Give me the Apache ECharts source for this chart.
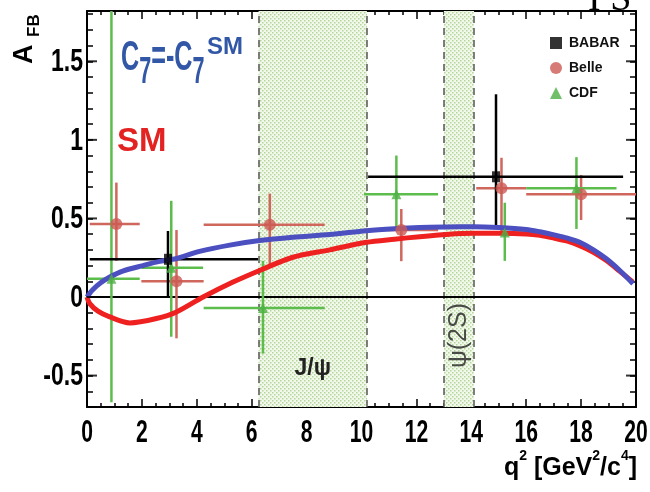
<!DOCTYPE html>
<html>
<head>
<meta charset="utf-8">
<script src="https://cdn.jsdelivr.net/npm/echarts@6/dist/echarts.min.js"></script>
<style>html,body{margin:0;padding:0;background:#fff;}#c{width:650px;height:492px;}</style>
</head>
<body>
<div id="c"></div>
<script>
// ---- data ----
const blueX = [0, 0.2, 0.5, 0.83, 1.3, 2.04, 2.6, 3.26, 4.1, 5.2, 6.29, 7.5, 8.84, 10.18, 11.2, 12.12, 13.1, 14.06, 15.0, 16.0, 16.5, 16.98, 17.5, 17.95, 18.45, 18.92, 19.4, 19.89];
const blueY = [0.0, 0.045, 0.09, 0.127, 0.165, 0.2, 0.225, 0.245, 0.29, 0.33, 0.359, 0.38, 0.397, 0.422, 0.435, 0.443, 0.446, 0.447, 0.442, 0.43, 0.415, 0.397, 0.375, 0.348, 0.3, 0.243, 0.17, 0.085];
const redX = [0, 0.1, 0.4, 0.83, 1.56, 2.53, 3.26, 4.23, 5.32, 6.29, 7.5, 8.84, 10.18, 11.2, 12.12, 13.1, 14.06, 15.0, 16.0, 16.5, 16.98, 17.5, 17.95, 18.45, 18.92, 19.4, 19.89];
const redY = [0.0, -0.042, -0.09, -0.127, -0.165, -0.137, -0.095, 0.0, 0.095, 0.169, 0.253, 0.3, 0.348, 0.368, 0.384, 0.398, 0.405, 0.405, 0.401, 0.392, 0.376, 0.355, 0.327, 0.285, 0.232, 0.165, 0.095];

const babarX   = [2.95, 14.9];
const babarY   = [0.24, 0.765];
const babarXlo = [0.1, 10.24];
const babarXhi = [6.23, 19.53];
const babarYlo = [0.0, 0.433];
const babarYhi = [0.42, 1.29];

const belleX   = [1.07, 3.26, 6.66, 11.45, 15.1, 18.0];
const belleY   = [0.465, 0.1, 0.46, 0.426, 0.692, 0.654];
const belleXlo = [0.1, 1.98, 4.25, 10.1, 14.18, 16.0];
const belleXhi = [1.92, 4.25, 8.66, 12.79, 16.0, 20.0];
const belleYlo = [0.23, -0.263, 0.21, 0.228, 0.42, 0.49];
const belleYhi = [0.728, 0.426, 0.658, 0.56, 0.886, 0.776];

const cdfX   = [0.89, 3.07, 6.41, 11.27, 15.22, 17.83];
const cdfY   = [0.116, 0.186, -0.07, 0.654, 0.41, 0.692];
const cdfXlo = [0.0, 1.98, 4.25, 10.09, 14.18, 16.0];
const cdfXhi = [1.92, 4.23, 8.66, 12.79, 16.0, 19.29];
const cdfYlo = [-0.67, -0.253, -0.36, 0.42, 0.23, 0.433];
const cdfYhi = [2.0, 0.612, 0.23, 0.9, 0.6, 0.89];

const bandJpsi = [6.25, 10.2];
const bandPsi2S = [13.0, 14.1];
const zeroX = [0, 19.8];
const xTickLabels = [0, 2, 4, 6, 8, 10, 12, 14, 16, 18, 20];
const yTickLabels = [-0.5, 0, 0.5, 1, 1.5];

// ---- helpers ----
const Y_MIN = -0.7, Y_MAX = 1.82;
const pts = (xs, ys) => xs.map((x, i) => [x, ys[i]]);
const errData = (x, y, xl, xh, yl, yh) => x.map((v, i) => [v, y[i], xl[i], xh[i], yl[i], yh[i]]);
function errSeries(name, data, color, w) {
  return {
    type: 'custom', name: name, data: data, clip: true, z: 4,
    renderItem: function (params, api) {
      const x = api.value(0), y = api.value(1);
      const p1 = api.coord([api.value(2), y]), p2 = api.coord([api.value(3), y]);
      const p3 = api.coord([x, api.value(4)]), p4 = api.coord([x, api.value(5)]);
      const cs = params.coordSys;
      return {
        type: 'group',
        clipPath: {type: 'rect', shape: {x: cs.x, y: cs.y, width: cs.width, height: cs.height}},
        children: [
          {type: 'line', shape: {x1: p1[0], y1: p1[1], x2: p2[0], y2: p2[1]}, style: {stroke: color, lineWidth: w}},
          {type: 'line', shape: {x1: p3[0], y1: p3[1], x2: p4[0], y2: p4[1]}, style: {stroke: color, lineWidth: w}}
        ]
      };
    }
  };
}

// dotted pattern for bands
const pat = document.createElement('canvas');
pat.width = 4; pat.height = 4;
const pc = pat.getContext('2d');
pc.fillStyle = '#f2f8ec'; pc.fillRect(0, 0, 4, 4);
pc.fillStyle = '#b5d69a'; pc.fillRect(0, 0, 1.5, 1.5); pc.fillRect(2, 2, 1.5, 1.5);

const SANS = '"Liberation Sans", Arial, sans-serif';

const chart = echarts.init(document.getElementById('c'), null, {renderer: 'canvas'});

const axBase = {
  type: 'value',
  axisLine: {show: true, onZero: false, lineStyle: {color: '#000', width: 2}},
  splitLine: {show: false},
  axisLabel: {show: false}
};

const option = {
  animation: false,
  backgroundColor: '#fff',
  grid: {left: 87, right: 14, top: 11, bottom: 85, containLabel: false},
  legend: {
    orient: 'vertical', left: 550, top: 36, itemWidth: 12, itemHeight: 12, itemGap: 11, padding: 0,
    textStyle: {fontSize: 14, fontWeight: 'bold', fontFamily: SANS, color: '#111', padding: [0, 0, 0, 2]},
    data: [
      {name: 'BABAR', icon: 'rect'},
      {name: 'Belle', icon: 'circle'},
      {name: 'CDF', icon: 'triangle'}
    ]
  },
  xAxis: [
    Object.assign({}, axBase, {min: 0, max: 20, interval: 2, position: 'bottom',
      axisTick: {show: true, inside: true, length: 8, lineStyle: {color: '#000', width: 1.5}},
      minorTick: {show: true, splitNumber: 4, length: 4, lineStyle: {color: '#000', width: 1.5}}}),
    Object.assign({}, axBase, {min: 0, max: 20, interval: 2, position: 'top',
      axisTick: {show: true, inside: true, length: 8, lineStyle: {color: '#000', width: 1.5}},
      minorTick: {show: true, splitNumber: 4, length: 4, lineStyle: {color: '#000', width: 1.5}}})
  ],
  yAxis: [
    Object.assign({}, axBase, {min: Y_MIN, max: Y_MAX, interval: 0.1, position: 'left',
      axisTick: {show: true, inside: true, length: 6, lineStyle: {color: '#000', width: 1.5}}}),
    Object.assign({}, axBase, {min: Y_MIN, max: Y_MAX, interval: 0.1, position: 'right',
      axisTick: {show: true, inside: true, length: 6, lineStyle: {color: '#000', width: 1.5}}})
  ],
  series: [
    {
      type: 'line', name: 'zero', data: pts(zeroX, [0, 0]), symbol: 'none', z: 3,
      lineStyle: {color: '#000', width: 2},
      markArea: {
        silent: true, z: 1,
        itemStyle: {color: {image: pat, repeat: 'repeat'}},
        data: [
          [{xAxis: bandJpsi[0], yAxis: Y_MIN, name: 'J/ψ'}, {xAxis: bandJpsi[1], yAxis: Y_MAX}],
          [{xAxis: bandPsi2S[0], yAxis: Y_MIN, name: ''}, {xAxis: bandPsi2S[1], yAxis: Y_MAX}]
        ],
        label: {show: true, position: 'insideBottom', distance: 27, fontSize: 23, fontWeight: 'bold', fontFamily: SANS, color: '#222'}
      },
      markLine: {
        silent: true, symbol: 'none', z: 2,
        label: {show: false},
        lineStyle: {type: [7, 5], color: '#555', width: 1.5},
        data: [{xAxis: bandJpsi[0]}, {xAxis: bandJpsi[1]}, {xAxis: bandPsi2S[0]}, {xAxis: bandPsi2S[1]}]
      }
    },
    {
      type: 'scatter', name: 'psi2s', data: [[(bandPsi2S[0] + bandPsi2S[1]) / 2, -0.245]], symbolSize: 0, z: 3, silent: true,
      label: {show: true, formatter: 'ψ(2S)', rotate: 90, position: 'inside', fontSize: 25, fontFamily: SANS, color: '#222'}
    },
    {
      type: 'scatter', name: 'majL', data: yTickLabels.map(v => [0, v]), symbol: 'rect', symbolSize: [10, 2], symbolOffset: [5, 0],
      itemStyle: {color: '#000'}, clip: false, silent: true, z: 6
    },
    {
      type: 'scatter', name: 'majR', data: yTickLabels.map(v => [20, v]), symbol: 'rect', symbolSize: [10, 2], symbolOffset: [-5, 0],
      itemStyle: {color: '#000'}, clip: false, silent: true, z: 6
    },
    {
      type: 'custom', name: 'xLabels', data: xTickLabels.map(v => [v, Y_MIN]), clip: false, silent: true, z: 6,
      renderItem: function (params, api) {
        const c = api.coord([api.value(0), api.value(1)]);
        return {type: 'text', x: c[0], y: c[1] + 26, scaleX: 0.66,
          style: {text: String(api.value(0)), font: 'bold 32px ' + SANS, fill: '#000', align: 'center', verticalAlign: 'middle'}};
      }
    },
    {
      type: 'custom', name: 'yLabels', data: yTickLabels.map(v => [0, v]), clip: false, silent: true, z: 6,
      renderItem: function (params, api) {
        const c = api.coord([api.value(0), api.value(1)]);
        return {type: 'text', x: c[0] - 4, y: c[1] + 1, scaleX: 0.72,
          style: {text: String(api.value(1)), font: 'bold 32px ' + SANS, fill: '#000', align: 'right', verticalAlign: 'middle'}};
      }
    },
    {
      type: 'line', name: 'SM', data: pts(redX, redY), symbol: 'none', smooth: 0.3, z: 5,
      lineStyle: {color: '#ee2020', width: 5}
    },
    {
      type: 'line', name: 'C7flip', data: pts(blueX, blueY), symbol: 'none', smooth: 0.3, z: 5,
      lineStyle: {color: '#4b4fc0', width: 5}
    },
    errSeries('belleErr', errData(belleX, belleY, belleXlo, belleXhi, belleYlo, belleYhi), '#d0675c', 2.5),
    errSeries('cdfErr', errData(cdfX, cdfY, cdfXlo, cdfXhi, cdfYlo, cdfYhi), '#5cbd4c', 2.5),
    errSeries('babarErr', errData(babarX, babarY, babarXlo, babarXhi, babarYlo, babarYhi), '#000', 2.5),
    {type: 'scatter', name: 'Belle', data: pts(belleX, belleY), symbol: 'circle', symbolSize: 12, itemStyle: {color: '#cc5a52'}, z: 7},
    {type: 'scatter', name: 'CDF', data: pts(cdfX, cdfY), symbol: 'triangle', symbolSize: 10, itemStyle: {color: '#4cb043'}, z: 7},
    {type: 'scatter', name: 'BABAR', data: pts(babarX, babarY), symbol: 'rect', symbolSize: [8, 11], itemStyle: {color: '#000'}, z: 8}
  ],
  graphic: [
    {type: 'text', x: 25, y: 64, rotation: Math.PI / 2, z: 100,
      style: {text: 'A', font: 'bold 27px ' + SANS, fill: '#000', align: 'left', verticalAlign: 'middle'}},
    {type: 'text', x: 34, y: 37, rotation: Math.PI / 2, z: 100,
      style: {text: 'FB', font: 'bold 17px ' + SANS, fill: '#000', align: 'left', verticalAlign: 'middle'}},
    {type: 'text', right: 13, top: 449, z: 100,
      style: {
        text: '{n|q}{s|2}{n| [GeV}{s|2}{n|/c}{s|4}{n|]}',
        rich: {
          n: {fontSize: 25, fontWeight: 'bold', fontFamily: SANS, fill: '#000', verticalAlign: 'bottom', lineHeight: 32},
          s: {fontSize: 14, fontWeight: 'bold', fontFamily: SANS, fill: '#000', verticalAlign: 'top', lineHeight: 32}
        }
      }},
    {type: 'text', x: 121, y: 37, scaleX: 0.6, z: 100,
      style: {
        text: '{c|C}{b|7}{c|=-C}{b|7}',
        rich: {
          c: {fontSize: 42, fontFamily: SANS, fontWeight: 'bold', fill: '#3157a6', verticalAlign: 'bottom', padding: [0, 0, 12, 0]},
          b: {fontSize: 36, fontFamily: SANS, fontWeight: 'bold', fill: '#3157a6', verticalAlign: 'bottom'}
        }
      }},
    {type: 'text', x: 207, y: 35, z: 100,
      style: {text: 'SM', font: 'bold 24px ' + SANS, fill: '#3157a6', align: 'left', verticalAlign: 'top'}},
    {type: 'text', x: 117, y: 125, z: 100,
      style: {text: 'SM', font: 'bold 33px ' + SANS, fill: '#e32222', align: 'left', verticalAlign: 'top'}},
    {type: 'text', left: 588, top: -19, z: 100,
      style: {text: 'I S', font: '38px "Liberation Serif", "Times New Roman", serif', fill: '#000'}}
  ]
};
chart.setOption(option);
</script>
</body>
</html>
